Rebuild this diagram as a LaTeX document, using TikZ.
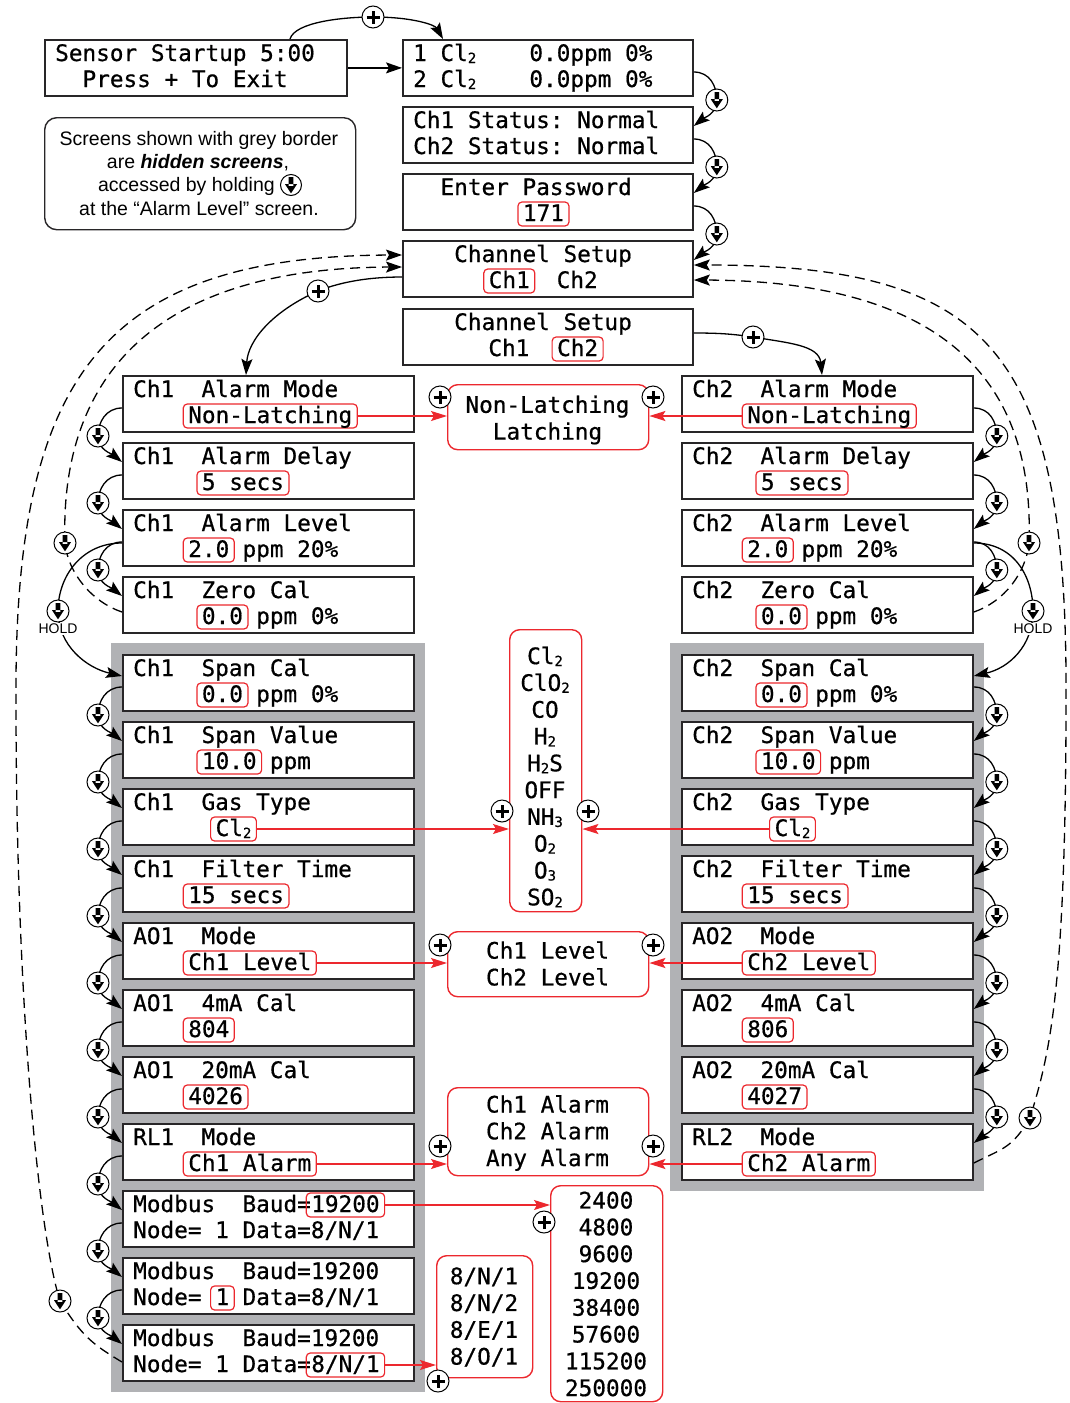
\documentclass[tikz,border=0pt]{standalone}
\usepackage{fontspec}
\setmainfont{Liberation Sans}
\newfontfamily\lcdfont{DejaVu Sans Mono}[FakeBold=0.6]
\usetikzlibrary{arrows.meta,calc}
\definecolor{hred}{RGB}{236,40,46}
\definecolor{panel}{RGB}{177,178,181}
\definecolor{sbord}{RGB}{40,38,40}
\newcommand\lcd{\lcdfont\fontsize{22.7}{26.8}\selectfont}
\newcommand\lsub[1]{\raisebox{-2pt}{\fontsize{14}{14}\selectfont #1}}
\newcommand\chw{13.67}
\newcounter{tn}
\newcommand\scrBox[4][291]{\gdef\scrX{#3}\gdef\scrY{#4}\node[scr,minimum width=#1] (#2) at (#3,#4) {};}
\newcommand\scrTa[2]{\stepcounter{tn}\node[lcdt] (t\arabic{tn}) at ({\scrX+11+\chw*(#1)},{\scrY+22}) {#2};}
\newcommand\scrTb[2]{\stepcounter{tn}\node[lcdt] (t\arabic{tn}) at ({\scrX+11+\chw*(#1)},{\scrY+48}) {#2};}
\newcommand\scrHa[3]{\node[hl] (#1) at ({\scrX+11+\chw*(#2)-5},{\scrY+22}) {#3};}
\newcommand\scrHb[3]{\node[hl] (#1) at ({\scrX+11+\chw*(#2)-5},{\scrY+48}) {#3};}
\newcommand\stepL[3]{\draw[conn,arr] ($(#1.north west)+(0,33)$) .. controls +(-16,0) and +(0,-14) .. ($(#1.north west)+(-24,61)$) coordinate (#3) .. controls +(0,14) and +(-10,-8) .. ($(#2.north west)+(0,20)$);
 \node[dcirc] (c#3) at (#3) {};}
\newcommand\stepR[3]{\draw[conn,arr] ($(#1.north east)+(0,33)$) .. controls +(16,0) and +(0,-14) .. ($(#1.north east)+(23,61)$) coordinate (#3) .. controls +(0,14) and +(10,-8) .. ($(#2.north east)+(0,20)$);
 \node[dcirc] (c#3) at (#3) {};}
\begin{document}
\begin{tikzpicture}[x=1pt,y=-1pt,
 scr/.style={draw=sbord,line width=1.8pt,fill=white,minimum height=56pt,anchor=north west,inner sep=0pt},
 lcdt/.style={anchor=base west,inner sep=0pt,font=\lcd},
 hl/.style={draw=hred,line width=1.2pt,rounded corners=4pt,inner xsep=5pt,inner ysep=3pt,text height=16pt,text depth=2pt,anchor=base west,font=\lcd},
 opt/.style={draw=hred,line width=1.4pt,rounded corners=10pt,fill=white,anchor=north west,inner sep=0pt},
 optt/.style={align=center,font=\lcd,inner sep=0pt},
 conn/.style={line width=1.3pt,draw=black},
 arr/.style={-{Stealth[length=16pt,width=11pt,inset=3pt]}},
 rconn/.style={line width=1.2pt,draw=hred,-{Stealth[length=16pt,width=10pt,inset=3pt]}},
 dconn/.style={line width=1.3pt,dash pattern=on 10pt off 6pt},
 pcirc/.style={circle,draw,fill=white,line width=1pt,minimum size=22pt,inner sep=0pt,path picture={\draw[black,line width=3pt,shift={(path picture bounding box.center)}] (-6.5pt,0pt)--(6.5pt,0pt) (0pt,-6.5pt)--(0pt,6.5pt);}},
 dcirc/.style={circle,draw,fill=white,line width=1pt,minimum size=22pt,inner sep=0pt,path picture={\fill[black,shift={(path picture bounding box.center)}] (-2.3pt,8pt) rectangle (2.3pt,-1pt) (-6pt,0.8pt)--(6pt,0.8pt)--(0pt,-8.3pt)--cycle;}},
 holdt/.style={font=\fontsize{14}{14}\selectfont,fill=white,inner sep=1pt},
 notet/.style={anchor=base,inner sep=0pt,font=\fontsize{19.5}{23}\selectfont}]
\fill[white] (0,0) rectangle (1070,1403);
\useasboundingbox (0,0) rectangle (1070,1403);
% grey panels
\fill[panel] (111,643) rectangle (425,1392);
\fill[panel] (670,643) rectangle (984,1191);
% top column
\scrBox[302]{SS}{44}{39} \scrTa{0}{Sensor~Startup~5:00} \scrTb{2}{Press~+~To~Exit}
\scrBox[290]{T1}{402}{39} \scrTa{0}{1~Cl\lsub{2}} \scrTa{8.5}{0.0ppm~0\%} \scrTb{0}{2~Cl\lsub{2}} \scrTb{8.5}{0.0ppm~0\%}
\scrBox[290]{T2}{402}{106} \scrTa{0}{Ch1~Status:~Normal} \scrTb{0}{Ch2~Status:~Normal}
\scrBox[290]{T3}{402}{173} \scrTa{2}{Enter~Password} \scrHb{hlT3}{8}{171}
\scrBox[290]{T4}{402}{240} \scrTa{3}{Channel~Setup} \scrHb{hlT4}{5.5}{Ch1} \scrTb{10.5}{Ch2}
\scrBox[290]{T5}{402}{308} \scrTa{3}{Channel~Setup} \scrTb{5.5}{Ch1} \scrHb{hlT5}{10.5}{Ch2}
% note
\node[draw=sbord,line width=1.4pt,rounded corners=12pt,minimum width=311,minimum height=112,anchor=north west,inner sep=0pt] (note) at (44,117) {};
\node[notet] (n1) at (199,145) {Screens shown with grey border};
\node[notet] (n2) at (198,168) {are \textbf{\textit{hidden screens}},};
\node[notet,anchor=base east] (n3) at (275,191) {accessed by holding};
\node[dcirc,minimum size=21pt] (n3c) at (291,185) {};
\node[notet] (n4) at (199,215) {at the “Alarm Level” screen.};
% left column
\scrBox{L1}{122}{375} \scrTa{0}{Ch1~~Alarm~Mode} \scrHb{hlL1}{4}{Non-Latching}
\scrBox{L2}{122}{442} \scrTa{0}{Ch1~~Alarm~Delay} \scrHb{hlL2}{5}{5~secs}
\scrBox{L3}{122}{509} \scrTa{0}{Ch1~~Alarm~Level} \scrHb{hlL3}{4}{2.0} \scrTb{8}{ppm~20\%}
\scrBox{L4}{122}{576} \scrTa{0}{Ch1~~Zero~Cal} \scrHb{hlL4}{5}{0.0} \scrTb{9}{ppm~0\%}
\scrBox{L5}{122}{654} \scrTa{0}{Ch1~~Span~Cal} \scrHb{hlL5}{5}{0.0} \scrTb{9}{ppm~0\%}
\scrBox{L6}{122}{721} \scrTa{0}{Ch1~~Span~Value} \scrHb{hlL6}{5}{10.0} \scrTb{10}{ppm}
\scrBox{L7}{122}{788} \scrTa{0}{Ch1~~Gas~Type} \scrHb{hlL7}{6}{Cl\lsub{2}}
\scrBox{L8}{122}{855} \scrTa{0}{Ch1~~Filter~Time} \scrHb{hlL8}{4}{15~secs}
\scrBox{L9}{122}{922} \scrTa{0}{AO1~~Mode} \scrHb{hlL9}{4}{Ch1~Level}
\scrBox{L10}{122}{989} \scrTa{0}{AO1~~4mA~Cal} \scrHb{hlL10}{4}{804}
\scrBox{L11}{122}{1056} \scrTa{0}{AO1~~20mA~Cal} \scrHb{hlL11}{4}{4026}
\scrBox{L12}{122}{1123} \scrTa{0}{RL1~~Mode} \scrHb{hlL12}{4}{Ch1~Alarm}
\scrBox{L13}{122}{1190} \scrTa{0}{Modbus~~Baud=} \scrHa{hlL13}{13}{19200} \scrTb{0}{Node=~1~Data=8/N/1}
\scrBox{L14}{122}{1257} \scrTa{0}{Modbus~~Baud=19200} \scrTb{0}{Node=} \scrHb{hlL14}{6}{1} \scrTb{8}{Data=8/N/1}
\scrBox{L15}{122}{1324} \scrTa{0}{Modbus~~Baud=19200} \scrTb{0}{Node=~1~Data=} \scrHb{hlL15}{13}{8/N/1}
% right column
\scrBox{R1}{681}{375} \scrTa{0}{Ch2~~Alarm~Mode} \scrHb{hlR1}{4}{Non-Latching}
\scrBox{R2}{681}{442} \scrTa{0}{Ch2~~Alarm~Delay} \scrHb{hlR2}{5}{5~secs}
\scrBox{R3}{681}{509} \scrTa{0}{Ch2~~Alarm~Level} \scrHb{hlR3}{4}{2.0} \scrTb{8}{ppm~20\%}
\scrBox{R4}{681}{576} \scrTa{0}{Ch2~~Zero~Cal} \scrHb{hlR4}{5}{0.0} \scrTb{9}{ppm~0\%}
\scrBox{R5}{681}{654} \scrTa{0}{Ch2~~Span~Cal} \scrHb{hlR5}{5}{0.0} \scrTb{9}{ppm~0\%}
\scrBox{R6}{681}{721} \scrTa{0}{Ch2~~Span~Value} \scrHb{hlR6}{5}{10.0} \scrTb{10}{ppm}
\scrBox{R7}{681}{788} \scrTa{0}{Ch2~~Gas~Type} \scrHb{hlR7}{6}{Cl\lsub{2}}
\scrBox{R8}{681}{855} \scrTa{0}{Ch2~~Filter~Time} \scrHb{hlR8}{4}{15~secs}
\scrBox{R9}{681}{922} \scrTa{0}{AO2~~Mode} \scrHb{hlR9}{4}{Ch2~Level}
\scrBox{R10}{681}{989} \scrTa{0}{AO2~~4mA~Cal} \scrHb{hlR10}{4}{806}
\scrBox{R11}{681}{1056} \scrTa{0}{AO2~~20mA~Cal} \scrHb{hlR11}{4}{4027}
\scrBox{R12}{681}{1123} \scrTa{0}{RL2~~Mode} \scrHb{hlR12}{4}{Ch2~Alarm}
% option boxes
\node[opt,minimum width=201,minimum height=65] (O1) at (447,384) {};
\node[optt] (O1t) at (547.5,420) {Non-Latching\\Latching};
\node[opt,minimum width=72,minimum height=282] (O2) at (509,629) {};
\node[optt] (O2t) at (545,777) {Cl\lsub{2}\\ClO\lsub{2}\\CO\\H\lsub{2}\\H\lsub{2}S\\OFF\\NH\lsub{3}\\O\lsub{2}\\O\lsub{3}\\SO\lsub{2}};
\node[opt,minimum width=201,minimum height=65] (O3) at (447,931) {};
\node[optt] (O3t) at (547.5,963.5) {Ch1~Level\\Ch2~Level};
\node[opt,minimum width=201,minimum height=88] (O4) at (447,1087) {};
\node[optt] (O4t) at (547.5,1133) {Ch1~Alarm\\Ch2~Alarm\\Any~Alarm};
\node[opt,minimum width=96,minimum height=122] (O5) at (436,1255) {};
\node[optt] (O5t) at (484,1317) {8/N/1\\8/N/2\\8/E/1\\8/O/1};
\node[opt,minimum width=112,minimum height=216] (O6) at (550,1185) {};
\node[optt] (O6t) at (606,1294) {2400\\4800\\9600\\19200\\38400\\57600\\115200\\250000};
% red connectors
\draw[rconn] (hlL1.east) -- (hlL1.east -| O1.west);
\draw[rconn] (hlR1.west) -- (hlR1.west -| O1.east);
\draw[rconn] (hlL7.east) -- (hlL7.east -| O2.west);
\draw[rconn] (hlR7.west) -- (hlR7.west -| O2.east);
\draw[rconn] (hlL9.east) -- (hlL9.east -| O3.west);
\draw[rconn] (hlR9.west) -- (hlR9.west -| O3.east);
\draw[rconn] (hlL12.east) -- (hlL12.east -| O4.west);
\draw[rconn] (hlR12.west) -- (hlR12.west -| O4.east);
\draw[rconn] (hlL13.east) -- (hlL13.east -| O6.west);
\draw[rconn] (hlL15.east) -- (hlL15.east -| O5.west);
\node[pcirc] (pO1L) at (440,397) {};
\node[pcirc] (pO1R) at (653,397) {};
\node[pcirc] (pO2L) at (502,811) {};
\node[pcirc] (pO2R) at (588,811) {};
\node[pcirc] (pO3L) at (440,945) {};
\node[pcirc] (pO3R) at (653,945) {};
\node[pcirc] (pO4L) at (440,1146) {};
\node[pcirc] (pO4R) at (653,1146) {};
\node[pcirc] (pO6) at (544,1222) {};
\node[pcirc] (pO5) at (438,1381) {};
% top connectors
\draw[conn,arr] (SS.east) -- (T1.west);
\draw[conn,arr] ($(SS.north west)+(246,0)$) .. controls +(5,-17) and +(-30,0) .. (373,17) coordinate (qTop) .. controls +(40,0) and +(-8,-14) .. ($(T1.north west)+(41,0)$);
\node[pcirc] (pTop) at (qTop) {};
\stepR{T1}{T2}{sT1}
\stepR{T2}{T3}{sT2}
\stepR{T3}{T4}{sT3}
\draw[conn,arr] ($(T4.north west)+(0,37)$) .. controls +(-30,0) and +(25,-10) .. (318,291) coordinate (qT4) .. controls +(-45,20) and +(2,-35) .. ($(L1.north west)+(124,0)$);
\node[pcirc] (pT4) at (qT4) {};
\draw[conn,arr] ($(T5.north east)+(0,25)$) .. controls +(25,0) and +(-20,-3) .. (753,337) coordinate (qT5) .. controls +(35,6) and +(-3,-30) .. ($(R1.north west)+(141,0)$);
\node[pcirc] (pT5) at (qT5) {};
% dashed return paths
\draw[dconn,arr] ($(L15.north west)+(0,38)$) .. controls +(-30,-18) and +(22,35) .. (60,1301) coordinate (qLo) .. controls +(-22,-70) and +(0,300) .. (16,700) .. controls (14,380) and (100,256) .. ($(T4.north west)+(0,15)$);
\draw[dconn,arr] ($(L4.north west)+(0,36)$) .. controls +(-30,-10) and +(3,30) .. (65,543) coordinate (qLi) .. controls +(-5,-143) and +(-272,1) .. ($(T4.north west)+(0,27)$);
\draw[dconn,arr] ($(R4.north east)+(0,36)$) .. controls +(30,-10) and +(-3,30) .. (1029,543) coordinate (qRi) .. controls +(5,-143) and +(272,1) .. ($(T4.north east)+(0,40)$);
\draw[dconn,arr] ($(R12.north east)+(0,40)$) .. controls +(30,-15) and +(-18,30) .. (1030,1118) coordinate (qRo) .. controls +(18,-60) and +(0,300) .. (1066,700) .. controls (1068,350) and (990,265) .. ($(T4.north east)+(0,25)$);
\node[dcirc] (dLo) at (qLo) {};
\node[dcirc] (dLi) at (qLi) {};
\node[dcirc] (dRi) at (qRi) {};
\node[dcirc] (dRo) at (qRo) {};
% HOLD paths
\draw[conn,arr] ($(L3.north west)+(0,34)$) .. controls +(-40,0) and +(0,-35) .. (58,611) coordinate (hL) .. controls +(0,35) and +(-35,-8) .. ($(L5.north west)+(0,22)$);
\node[holdt] (holdL) at (58,629) {HOLD};
\node[dcirc] (chL) at (hL) {};
\draw[conn,arr] ($(R3.north east)+(0,34)$) .. controls +(40,0) and +(0,-35) .. (1033,611) coordinate (hR) .. controls +(0,35) and +(35,-8) .. ($(R5.north east)+(0,22)$);
\node[holdt] (holdR) at (1033,629) {HOLD};
\node[dcirc] (chR) at (hR) {};
% step connectors
\stepL{L1}{L2}{sL1}
\stepL{L2}{L3}{sL2}
\stepL{L3}{L4}{sL3}
\stepL{L5}{L6}{sL5}
\stepL{L6}{L7}{sL6}
\stepL{L7}{L8}{sL7}
\stepL{L8}{L9}{sL8}
\stepL{L9}{L10}{sL9}
\stepL{L10}{L11}{sL10}
\stepL{L11}{L12}{sL11}
\stepL{L12}{L13}{sL12}
\stepL{L13}{L14}{sL13}
\stepL{L14}{L15}{sL14}
\stepR{R1}{R2}{sR1}
\stepR{R2}{R3}{sR2}
\stepR{R3}{R4}{sR3}
\stepR{R5}{R6}{sR5}
\stepR{R6}{R7}{sR6}
\stepR{R7}{R8}{sR7}
\stepR{R8}{R9}{sR8}
\stepR{R9}{R10}{sR9}
\stepR{R10}{R11}{sR10}
\stepR{R11}{R12}{sR11}
\end{tikzpicture}
\end{document}
